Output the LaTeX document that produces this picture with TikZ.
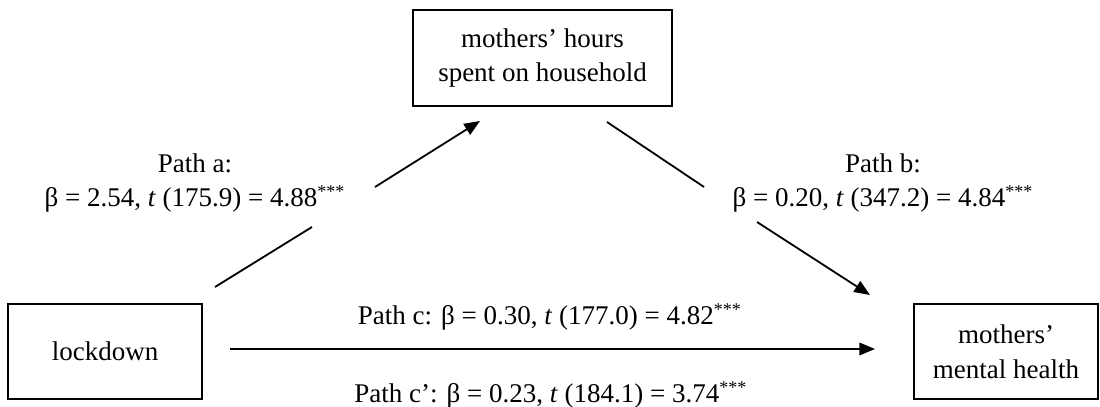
\documentclass[tikz,border=0pt]{standalone}
\usepackage{fontspec}
\setmainfont{Liberation Serif}
\usetikzlibrary{arrows.meta}
\begin{document}
\begin{tikzpicture}[x=0.4444pt,y=-0.4444pt,
  every node/.style={font=\fontsize{12}{15.5}\selectfont, inner sep=0pt},
  varbox/.style={draw, line width=0.8pt, align=center},
  lbl/.style={align=center},
  seg/.style={line width=0.8pt},
  arr/.style={line width=0.8pt, -{Triangle[length=7pt,width=5.6pt]}}]
\useasboundingbox (0,0) rectangle (1100,407);
% boxes
\node[varbox, minimum width=115.1pt, minimum height=42.7pt] (med) at (542.5,58) {mothers’ hours\\spent on household};
\node[varbox, minimum width=86.2pt, minimum height=42.2pt] (lock) at (105,351.5) {lockdown};
\node[varbox, minimum width=81.8pt, minimum height=42.2pt] (mh) at (1006,351.5) {mothers’\\mental health};
% connector points
\coordinate (a1) at (215,287);
\coordinate (a2) at (312,227);
\coordinate (a3) at (375,187);
\coordinate (a4) at (480,121);
\coordinate (b1) at (607,122);
\coordinate (b2) at (704,187);
\coordinate (b3) at (757,222);
\coordinate (b4) at (870,295);
\coordinate (c1) at (230,349);
\coordinate (c2) at (875,349);
% connectors
\draw[seg] (a1) -- (a2);
\draw[arr] (a3) -- (a4);
\draw[seg] (b1) -- (b2);
\draw[arr] (b3) -- (b4);
\draw[arr] (c1) -- (c2);
% labels
\node[lbl] (la) at (195,183) {Path a:\\β = 2.54, \textit{t} (175.9) = 4.88\textsuperscript{***}};
\node[lbl] (lb) at (883,183) {Path b:\\β = 0.20, \textit{t} (347.2) = 4.84\textsuperscript{***}};
\node[anchor=base] (lc) at (550,325) {Path c: β = 0.30, \textit{t} (177.0) = 4.82\textsuperscript{***}};
\node[anchor=base] (lcp) at (551,403) {Path c’: β = 0.23, \textit{t} (184.1) = 3.74\textsuperscript{***}};
\end{tikzpicture}
\end{document}
